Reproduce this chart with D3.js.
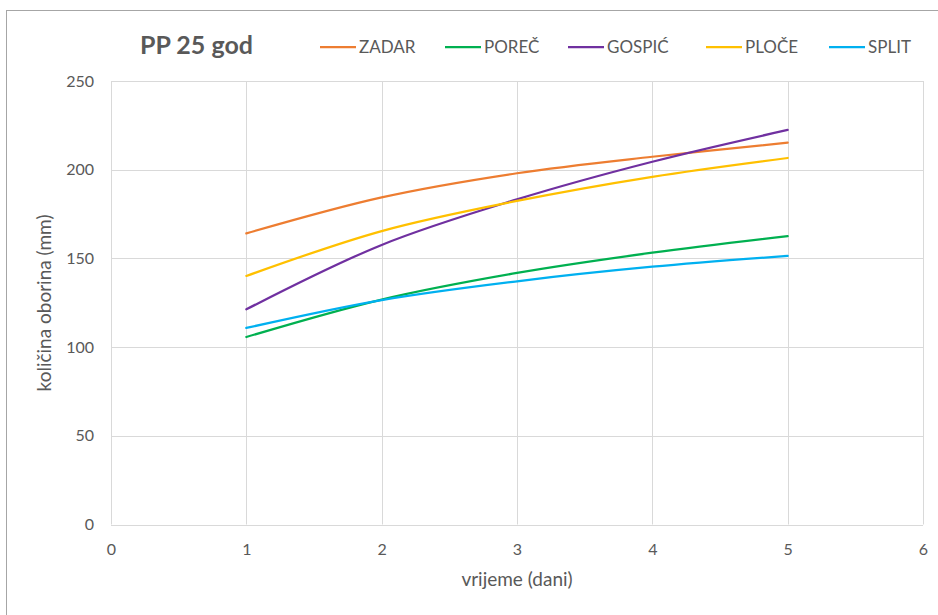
<!DOCTYPE html>
<html><head><meta charset="utf-8">
<script src="https://cdn.jsdelivr.net/npm/d3@7"></script>
<style>body{margin:0;background:#fff}svg{display:block}text{font-family:Lato,"Open Sans",sans-serif;fill:#595959}</style>
</head><body>
<script>
const days = [1, 2, 3, 4, 5];
const seriesNames = ["ZADAR", "POREČ", "GOSPIĆ", "PLOČE", "SPLIT"];
const zadar  = [164.1, 184.4, 198.0, 207.3, 215.2];
const porec  = [105.7, 126.8, 141.8, 153.2, 162.6];
const gospic = [121.3, 157.6, 183.3, 204.5, 222.4];
const ploce  = [140.1, 165.4, 182.4, 196.0, 206.6];
const split  = [110.8, 126.5, 137.1, 145.3, 151.4];
const colors = ["#ED7D31", "#00B050", "#7030A0", "#FFC000", "#00B0F0"];
const xTicks = [0, 1, 2, 3, 4, 5, 6];
const yTicks = [0, 50, 100, 150, 200, 250];
const title = "PP 25 god";
const xTitle = "vrijeme (dani)";
const yTitle = "količina oborina (mm)";

const allSeries = [zadar, porec, gospic, ploce, split];
const W = 938, H = 615;
const svg = d3.select("body").append("svg").attr("width", W).attr("height", H);

svg.append("rect").attr("x", 6.5).attr("y", 10.5).attr("width", W + 10).attr("height", H + 10)
  .attr("fill", "none").attr("stroke", "#a6a6a6").attr("stroke-width", 1);

const x = d3.scaleLinear().domain([0, 6]).range([111, 923]);
const y = d3.scaleLinear().domain([0, 250]).range([524.5, 81]);

const g = svg.append("g");
g.selectAll(".vg").data(xTicks).enter().append("line")
  .attr("x1", d => Math.round(x(d)) + 0.5).attr("x2", d => Math.round(x(d)) + 0.5)
  .attr("y1", y(250)).attr("y2", y(0)).attr("stroke", "#d9d9d9");
g.selectAll(".hg").data(yTicks).enter().append("line")
  .attr("y1", d => Math.round(y(d)) + 0.5).attr("y2", d => Math.round(y(d)) + 0.5)
  .attr("x1", x(0)).attr("x2", x(6)).attr("stroke", "#d9d9d9");

const xAxis = svg.append("g").attr("transform", `translate(0,${y(0)})`)
  .call(d3.axisBottom(x).tickValues(xTicks).tickFormat(d3.format("d")).tickSize(0).tickPadding(19));
xAxis.select(".domain").remove();
xAxis.selectAll("text").style("font-size", "16px").attr("fill", "#595959");
const yAxis = svg.append("g").attr("transform", `translate(${x(0)},0)`)
  .call(d3.axisLeft(y).tickValues(yTicks).tickFormat(d3.format("d")).tickSize(0).tickPadding(17));
yAxis.select(".domain").remove();
yAxis.selectAll("text").style("font-size", "16px").attr("fill", "#595959");

const line = d3.line().x((d, i) => x(days[i])).y(d => y(d)).curve(d3.curveCatmullRom.alpha(0.5));
allSeries.forEach((s, i) => {
  svg.append("path").datum(s).attr("d", line).attr("fill", "none")
    .attr("stroke", colors[i]).attr("stroke-width", 2.25).attr("stroke-linecap", "round");
});

svg.append("text").attr("x", 140).attr("y", 54).text(title)
  .style("font-size", "25px").style("font-weight", "bold");
svg.append("text").attr("x", 517).attr("y", 586).attr("text-anchor", "middle").text(xTitle)
  .style("font-size", "19px");
svg.append("text").attr("transform", `translate(51,303) rotate(-90)`).attr("text-anchor", "middle")
  .text(yTitle).style("font-size", "19px");

const legX = [320, 445, 568, 706, 829];
const leg = svg.append("g");
seriesNames.forEach((n, i) => {
  leg.append("line").attr("x1", legX[i]).attr("x2", legX[i] + 36).attr("y1", 47).attr("y2", 47)
    .attr("stroke", colors[i]).attr("stroke-width", 2.25);
  leg.append("text").attr("x", legX[i] + 39).attr("y", 53).text(n).style("font-size", "17px");
});
</script>
</body></html>
